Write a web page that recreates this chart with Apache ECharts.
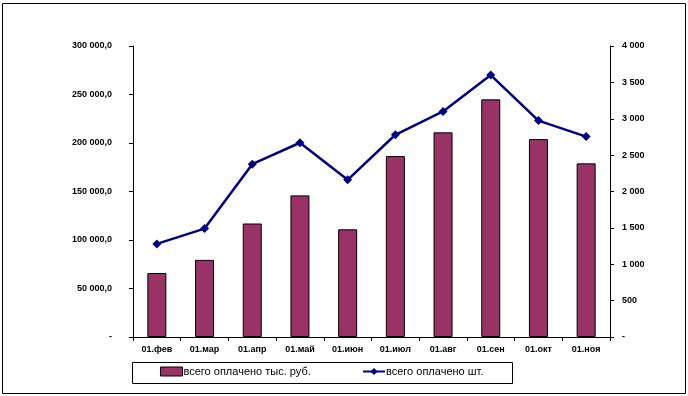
<!DOCTYPE html>
<html><head><meta charset="utf-8">
<script src="https://cdn.jsdelivr.net/npm/echarts@6/dist/echarts.min.js"></script>
<style>html,body{margin:0;padding:0;background:#fff}#c{width:688px;height:396px}</style>
</head><body><div id="c"></div>
<script>
const categories = ['01.фев','01.мар','01.апр','01.май','01.июн','01.июл','01.авг','01.сен','01.окт','01.ноя'];
const paidRub = [66000, 79500, 117000, 146000, 111000, 186500, 211000, 245000, 204000, 179000];
const paidCount = [1280, 1490, 2375, 2670, 2160, 2780, 3100, 3600, 2975, 2755];
const barName = 'всего оплачено тыс. руб.';
const lineName = 'всего оплачено шт.';

function fmtLeft(v){ if(v===0) return '-'; return String(v).replace(/\B(?=(\d{3})+(?!\d))/g,' ') + ',0'; }
function fmtRight(v){ if(v===0) return '-'; return String(v).replace(/\B(?=(\d{3})+(?!\d))/g,' '); }

const chart = echarts.init(document.getElementById('c'), null, {renderer:'canvas'});
const axisFont = {fontFamily:'Liberation Sans, Arial', fontSize:9, fontWeight:'bold', color:'#000'};
chart.setOption({
  animation:false,
  backgroundColor:'#fff',
  grid:{left:133, right:78, top:46, bottom:59},
  graphic:[
    {type:'rect', shape:{x:2.5,y:3.5,width:683,height:390}, style:{fill:'none', stroke:'#000', lineWidth:1}, silent:true, z:-1},
    {type:'rect', shape:{x:132.5,y:362.5,width:380,height:21}, style:{fill:'none', stroke:'#000', lineWidth:1}, silent:true}
  ],
  legend:[
    {data:[{name:barName, icon:'rect'}], left:160, top:366, padding:0, itemWidth:22, itemHeight:9, itemGap:0,
     itemStyle:{borderColor:'#000', borderWidth:1},
     textStyle:{fontFamily:'Liberation Sans, Arial', fontSize:11, color:'#000', padding:[0,0,0,-4]}},
    {data:[lineName], left:362, top:366, padding:0, itemWidth:22, itemHeight:9, itemGap:0,
     textStyle:{fontFamily:'Liberation Sans, Arial', fontSize:11, color:'#000', padding:[0,0,0,-4]}}
  ],
  xAxis:{type:'category', data:categories, boundaryGap:true,
    axisLine:{lineStyle:{color:'#000', width:1}},
    axisTick:{show:true, length:4, lineStyle:{color:'#000'}},
    axisLabel:Object.assign({margin:8, interval:0}, axisFont)},
  yAxis:[
    {type:'value', min:0, max:300000, interval:50000, position:'left',
     axisLine:{show:true, lineStyle:{color:'#000'}},
     axisTick:{show:true, length:4, lineStyle:{color:'#000'}},
     splitLine:{show:false},
     axisLabel:Object.assign({margin:21, formatter:fmtLeft}, axisFont)},
    {type:'value', min:0, max:4000, interval:500, position:'right',
     axisLine:{show:true, lineStyle:{color:'#000'}},
     axisTick:{show:true, length:4, lineStyle:{color:'#000'}},
     splitLine:{show:false},
     axisLabel:Object.assign({margin:12, formatter:fmtRight}, axisFont)}
  ],
  series:[
    {name:barName, type:'bar', data:paidRub, yAxisIndex:0, barWidth:19,
     itemStyle:{color:'#993366', borderColor:'#000', borderWidth:1}},
    {name:lineName, type:'line', data:paidCount, yAxisIndex:1,
     symbol:'diamond', symbolSize:9,
     lineStyle:{color:'#000080', width:2.5}, itemStyle:{color:'#000080'}}
  ]
});
</script></body></html>
